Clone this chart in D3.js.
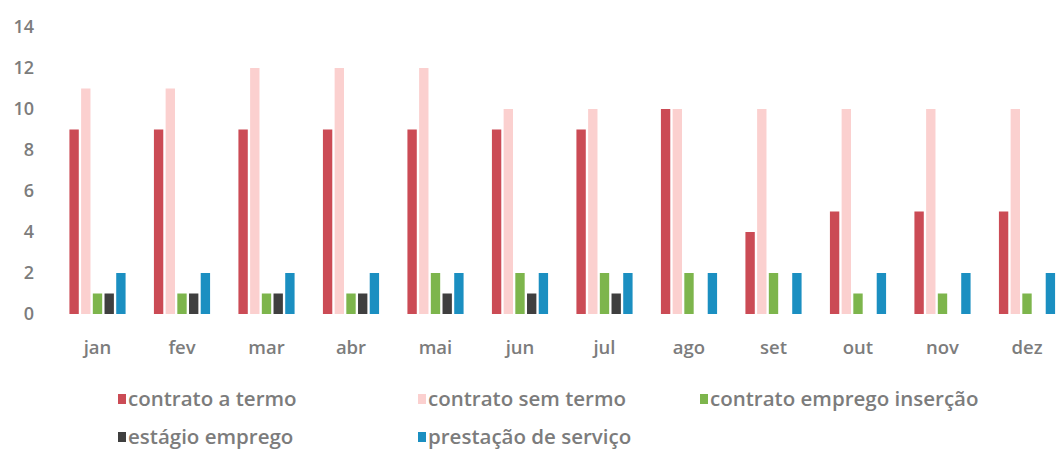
<!DOCTYPE html>
<html lang="pt">
<head>
    <meta charset="UTF-8">
    <title>Contratos por mês</title>
    <script src="https://d3js.org/d3.v7.min.js"></script>
    <style>
        body { margin: 0; background: #fff; }
        text { font-family: "Open Sans", sans-serif; fill: #7c7c7c; font-weight: 600; }
    </style>
</head>
<body>
    <div id="output"></div>
    <script>
        var months = ["jan", "fev", "mar", "abr", "mai", "jun", "jul", "ago", "set", "out", "nov", "dez"];
        var seriesNames = ["contrato a termo", "contrato sem termo", "contrato emprego inserção", "estágio emprego", "prestação de serviço"];
        var seriesColors = ["#cb4b55", "#fbd0cf", "#7db54c", "#3f3f3f", "#1b8fc1"];

        var contratoTermo   = [9, 9, 9, 9, 9, 9, 9, 10, 4, 5, 5, 5];
        var contratoSemTermo = [11, 11, 12, 12, 12, 10, 10, 10, 10, 10, 10, 10];
        var empregoInsercao = [1, 1, 1, 1, 2, 2, 2, 2, 2, 1, 1, 1];
        var estagioEmprego  = [1, 1, 1, 1, 1, 1, 1, 0, 0, 0, 0, 0];
        var prestacaoServico = [2, 2, 2, 2, 2, 2, 2, 2, 2, 2, 2, 2];

        var yTicks = [0, 2, 4, 6, 8, 10, 12, 14];

        var allSeries = [contratoTermo, contratoSemTermo, empregoInsercao, estagioEmprego, prestacaoServico];

        var width = 1057, height = 456;

        var svg = d3.select("#output").append("svg")
            .attr("width", width)
            .attr("height", height);

        var x = d3.scaleBand()
            .domain(months)
            .range([55.25, 1069.25])
            .paddingInner(0.28)
            .paddingOuter(0.14);

        var xSub = d3.scaleBand()
            .domain(d3.range(seriesNames.length))
            .range([0, x.bandwidth()])
            .padding(0.2);

        var y = d3.scaleLinear()
            .domain([0, 14])
            .range([314, 27]);

        // eixo y (só os números)
        svg.append("g")
            .selectAll("text")
            .data(yTicks)
            .enter().append("text")
            .attr("x", 34)
            .attr("y", function(d) { return y(d); })
            .attr("dy", "0.35em")
            .attr("text-anchor", "end")
            .style("font-size", "18px")
            .text(function(d) { return d; });

        // barras
        var groups = svg.selectAll(".month")
            .data(months)
            .enter().append("g")
            .attr("class", "month")
            .attr("transform", function(d) { return "translate(" + x(d) + ",0)"; });

        groups.selectAll("rect")
            .data(function(d, i) {
                return allSeries.map(function(s, k) { return { k: k, value: s[i] }; });
            })
            .enter().append("rect")
            .attr("x", function(d) { return xSub(d.k); })
            .attr("width", xSub.bandwidth())
            .attr("y", function(d) { return y(d.value); })
            .attr("height", function(d) { return y(0) - y(d.value); })
            .style("fill", function(d) { return seriesColors[d.k]; });

        // rótulos dos meses
        svg.append("g")
            .selectAll("text")
            .data(months)
            .enter().append("text")
            .attr("x", function(d) { return x(d) + x.bandwidth() / 2; })
            .attr("y", 348)
            .attr("dy", "0.35em")
            .attr("text-anchor", "middle")
            .style("font-size", "18.5px")
            .text(function(d) { return d; });

        // legenda
        var legendPos = [[118, 399], [418, 399], [700, 399], [118, 437], [418, 437]];

        var legend = svg.selectAll(".legend")
            .data(seriesNames)
            .enter().append("g")
            .attr("class", "legend")
            .attr("transform", function(d, i) { return "translate(" + legendPos[i][0] + "," + legendPos[i][1] + ")"; });

        legend.append("rect")
            .attr("x", 0)
            .attr("y", -5)
            .attr("width", 8)
            .attr("height", 10)
            .style("fill", function(d, i) { return seriesColors[i]; });

        legend.append("text")
            .attr("x", 10)
            .attr("y", 0)
            .attr("dy", "0.35em")
            .style("font-size", "20.5px")
            .text(function(d) { return d; });
    </script>
</body>
</html>
